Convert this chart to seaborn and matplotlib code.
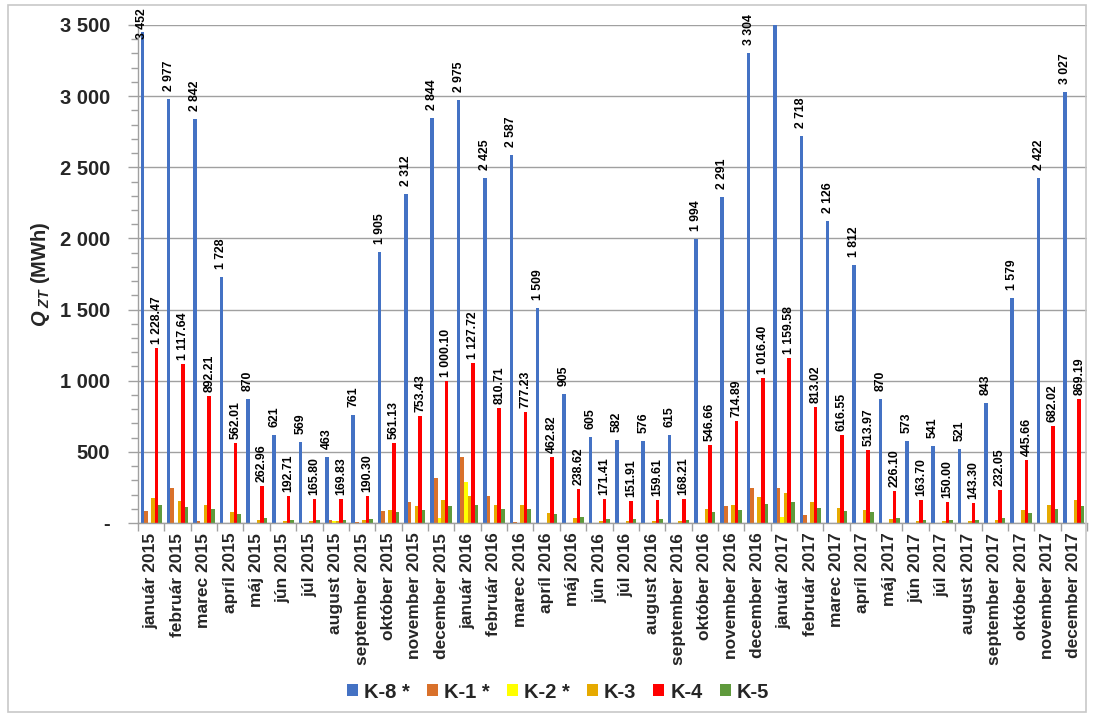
import numpy as np
import pandas as pd
import matplotlib
matplotlib.use("Agg")
import matplotlib.pyplot as plt
import matplotlib.ticker as mticker
from matplotlib.patches import Rectangle
import seaborn as sns

months = ["január", "február", "marec", "apríl", "máj", "jún", "júl", "august",
          "september", "október", "november", "december"]
years = [2015, 2016, 2017]
categories = [f"{m} {y}" for y in years for m in months]

series_names = ["K-8 *", "K-1 *", "K-2 *", "K-3", "K-4", "K-5"]

k8 = [3452, 2977, 2842, 1728, 870, 621, 569, 463, 761, 1905, 2312, 2844,
      2975, 2425, 2587, 1509, 905, 605, 582, 576, 615, 1994, 2291, 3304,
      3560, 2718, 2126, 1812, 870, 573, 541, 521, 843, 1579, 2422, 3027]
k1 = [87, 249, 16, 0, 0, 0, 0, 23, 7, 82, 150, 319,
      465, 192, 7, 0, 0, 0, 0, 0, 0, 0, 117, 244,
      244, 56, 0, 0, 0, 0, 0, 0, 0, 0, 0, 0]
k2 = [0, 0, 0, 0, 0, 0, 0, 14, 0, 0, 0, 33,
      286, 0, 0, 0, 0, 0, 0, 0, 0, 0, 0, 0,
      42, 0, 0, 0, 0, 0, 0, 0, 0, 0, 0, 0]
k3 = [176, 157, 129, 80, 23, 14, 12, 14, 23, 92, 122, 164,
      187, 129, 127, 68, 35, 14, 12, 12, 12, 96, 127, 183,
      211, 148, 108, 92, 30, 14, 12, 12, 23, 94, 129, 164]
k4 = [1228.47, 1117.64, 892.21, 562.01, 262.96, 192.71, 165.80, 169.83, 190.30,
      561.13, 753.43, 1000.10, 1127.72, 810.71, 777.23, 462.82, 238.62, 171.41,
      151.91, 159.61, 168.21, 546.66, 714.89, 1016.40, 1159.58, 813.02, 616.55,
      513.97, 226.10, 163.70, 150.00, 143.30, 232.05, 445.66, 682.02, 869.19]
k5 = [124, 115, 99, 66, 32, 23, 20, 23, 30, 75, 92, 122,
      129, 96, 99, 63, 40, 25, 25, 25, 23, 77, 94, 134,
      145, 108, 87, 80, 33, 23, 23, 23, 37, 73, 101, 117]

colors = ["#4472C4", "#D9712B", "#FFFF00", "#E6AA00", "#FF0000", "#5F9A3C"]

all_vals = [k8, k1, k2, k3, k4, k5]
rows = []
for name, vals in zip(series_names, all_vals):
    for c, v in zip(categories, vals):
        rows.append({"month": c, "series": name, "value": v})
df = pd.DataFrame(rows)

sns.set_theme(style="white")
plt.rcParams["font.family"] = ["Liberation Sans", "DejaVu Sans"]
plt.rcParams["mathtext.fontset"] = "custom"
plt.rcParams["mathtext.it"] = "Liberation Sans:italic:bold"
plt.rcParams["mathtext.rm"] = "Liberation Sans:bold"
plt.rcParams["mathtext.bf"] = "Liberation Sans:bold"

W, H = 1094, 717
fig = plt.figure(figsize=(W / 100, H / 100), dpi=100)
ax = fig.add_axes([138 / W, 1 - 523 / H, (1087 - 138) / W, (523 - 25) / H])

sns.barplot(data=df, x="month", y="value", hue="series", order=categories,
            hue_order=series_names, palette=colors, width=0.81, gap=0,
            saturation=1, ax=ax, legend=True, linewidth=0)

YMAX = 3500
ax.set_ylim(0, YMAX)
ax.set_xlim(-0.5, len(categories) - 0.5)

# data labels for K-8 and K-4
gray = "#A0A0A0"
cont = ax.containers
for idx, off_px, fmt in [(0, 8, "{:,.0f}"), (4, 4, "{:,.2f}")]:
    for bar, v in zip(cont[idx], all_vals[idx]):
        if v > YMAX:
            continue
        x = bar.get_x() + bar.get_width() / 2
        y = min(v + off_px * YMAX / 498, 3400)
        ax.text(x, y, fmt.format(v).replace(",", " "), rotation=90,
                ha="center", va="bottom", fontsize=8.8, fontweight="bold",
                color="black")

# y axis
ax.yaxis.set_major_locator(mticker.MultipleLocator(500))
ax.yaxis.set_minor_locator(mticker.MultipleLocator(100))
ax.yaxis.set_major_formatter(mticker.FuncFormatter(
    lambda v, p: "-" if v == 0 else f"{v:,.0f}".replace(",", " ")))
ax.tick_params(axis="y", which="major", length=7, width=1, color=gray,
               labelsize=14.5, left=True, pad=13)
ax.tick_params(axis="y", which="minor", length=5, width=1, color=gray, left=True)
for t in ax.get_yticklabels():
    t.set_fontweight("bold")
ax.grid(axis="y", which="major", color=gray, linewidth=1)
ax.set_axisbelow(True)

# x axis
ax.set_xticks(range(len(categories)))
ax.set_xticklabels(categories, rotation=90, fontsize=12.5, fontweight="bold")
ax.tick_params(axis="x", which="major", length=0, pad=7)
ax.set_xticks(np.arange(-0.5, len(categories), 1), minor=True)
ax.tick_params(axis="x", which="minor", length=6, width=1, color=gray, bottom=True)
ax.set_xlabel("")
ax.set_ylabel(r"$Q_{\ ZT}$ (MWh)", fontsize=14.5, fontweight="bold")
ax.yaxis.set_label_coords((52 - 138) / 949, 0.5)

for s in ["top", "right"]:
    ax.spines[s].set_visible(False)
for s in ["left", "bottom"]:
    ax.spines[s].set_color(gray)
    ax.spines[s].set_linewidth(1)

leg = ax.legend(loc="center", bbox_to_anchor=(558 / W, 1 - 692 / H),
                bbox_transform=fig.transFigure, ncol=6, frameon=False,
                handlelength=0.55, handleheight=0.55, handletextpad=0.3,
                columnspacing=0.85, prop={"size": 14.5, "weight": "bold"})

fig.patches.append(Rectangle((8 / W, 5 / H), 1 - 16 / W, 1 - 10 / H,
                             transform=fig.transFigure, fill=False,
                             edgecolor="#C8C8C8", linewidth=1.2))

fig.savefig("out.png", dpi=100)
